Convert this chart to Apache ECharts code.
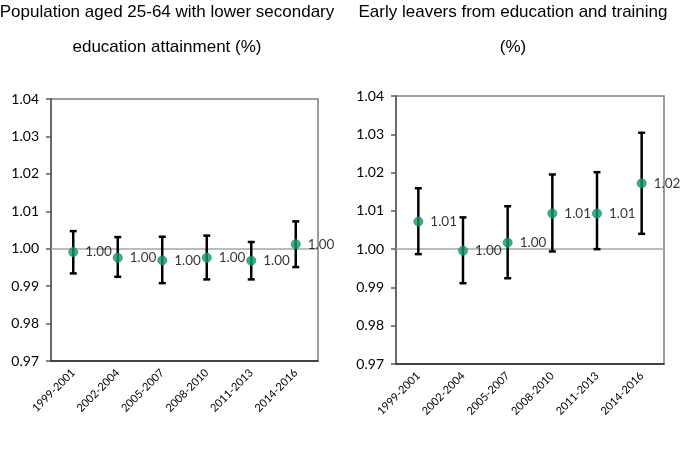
<!DOCTYPE html>
<html>
<head>
<meta charset="utf-8">
<script src="https://cdn.jsdelivr.net/npm/echarts@6/dist/echarts.min.js"></script>
<style>html,body{margin:0;padding:0;background:#fff}#c{width:686px;height:450px}</style>
</head>
<body>
<div id="c"></div>
<script>
var categories = ['1999-2001','2002-2004','2005-2007','2008-2010','2011-2013','2014-2016'];
var yTicks = [0.97, 0.98, 0.99, 1.00, 1.01, 1.02, 1.03, 1.04];

var leftTitle = 'Population aged 25-64 with lower secondary\neducation attainment (%)';
var leftValues = [0.9991, 0.9976, 0.9969, 0.9976, 0.9968, 1.0012];
var leftLow    = [0.9934, 0.9925, 0.9908, 0.9918, 0.9918, 0.9951];
var leftHigh   = [1.0047, 1.0031, 1.0032, 1.0035, 1.0018, 1.0073];

var rightTitle = 'Early leavers from education and training\n(%)';
var rightValues = [1.0072, 0.9996, 1.0017, 1.0093, 1.0093, 1.0172];
var rightLow    = [0.9987, 0.9911, 0.9924, 0.9994, 1.0000, 1.0040];
var rightHigh   = [1.0159, 1.0083, 1.0112, 1.0195, 1.0201, 1.0304];

var chart = echarts.init(document.getElementById('c'), null, {renderer: 'canvas'});
var FONT = 'Lato';

function errData(lo, hi) {
  return lo.map(function (l, i) { return [i, l, hi[i]]; });
}
function renderErr(params, api) {
  var x = api.value(0);
  var p1 = api.coord([x, api.value(1)]);
  var p2 = api.coord([x, api.value(2)]);
  var hw = 3.5;
  var st = {stroke: '#000', lineWidth: 2.5};
  return {
    type: 'group',
    children: [
      {type: 'line', shape: {x1: p1[0], y1: p1[1], x2: p2[0], y2: p2[1]}, style: st},
      {type: 'line', shape: {x1: p1[0] - hw, y1: p1[1], x2: p1[0] + hw, y2: p1[1]}, style: st},
      {type: 'line', shape: {x1: p2[0] - hw, y1: p2[1], x2: p2[0] + hw, y2: p2[1]}, style: st}
    ]
  };
}
function xAxis(idx) {
  return {
    type: 'category', gridIndex: idx, data: categories,
    axisLine: {lineStyle: {color: '#262626', width: 1.5}},
    axisTick: {show: false},
    axisLabel: {rotate: 45, fontFamily: FONT, fontSize: 11, color: '#000', margin: 10, interval: 0},
    splitLine: {show: false}
  };
}
function yAxis(idx) {
  return {
    type: 'value', gridIndex: idx, min: 0.97, max: 1.04, interval: 0.01,
    axisLine: {show: true, lineStyle: {color: '#595959', width: 1.5}},
    axisTick: {show: true, length: 5, lineStyle: {color: '#595959', width: 1.5}},
    axisLabel: {fontFamily: FONT, fontSize: 14, color: '#000', margin: 12,
      formatter: function (v) { return v.toFixed(2); }},
    splitLine: {show: false}
  };
}
function scatter(idx, vals) {
  return {
    type: 'scatter', xAxisIndex: idx, yAxisIndex: idx, z: 5,
    data: vals, symbol: 'circle', symbolSize: 9,
    itemStyle: {color: '#00a651', borderColor: '#4472c4', borderWidth: 1},
    label: {show: true, position: 'right', distance: 7, fontFamily: FONT, fontSize: 13.5, color: '#000',
      formatter: function (p) { return p.value.toFixed(2); }},
    markLine: {
      silent: true, symbol: 'none', z: 1,
      lineStyle: {color: '#a6a6a6', width: 1.5, type: 'solid'},
      label: {show: false},
      data: [{yAxis: 1.0}]
    },
    emphasis: {disabled: true}
  };
}
function errSeries(idx, lo, hi) {
  return {
    type: 'custom', xAxisIndex: idx, yAxisIndex: idx, z: 3,
    data: errData(lo, hi),
    encode: {x: 0, y: [1, 2]},
    renderItem: renderErr
  };
}

chart.setOption({
  animation: false,
  backgroundColor: '#fff',
  title: [
    {text: leftTitle, left: 167, top: -5, textAlign: 'center', padding: 0,
      textStyle: {fontFamily: 'Liberation Sans', fontSize: 17, fontWeight: 'normal', color: '#000', lineHeight: 35}},
    {text: rightTitle, left: 513, top: -5, textAlign: 'center', padding: 0,
      textStyle: {fontFamily: 'Liberation Sans', fontSize: 17, fontWeight: 'normal', color: '#000', lineHeight: 35}}
  ],
  grid: [
    {left: 51, right: 368, top: 99, bottom: 89, show: true, borderColor: '#7f7f7f', borderWidth: 1.5, containLabel: false},
    {left: 396, right: 22, top: 96, bottom: 86, show: true, borderColor: '#7f7f7f', borderWidth: 1.5, containLabel: false}
  ],
  xAxis: [xAxis(0), xAxis(1)],
  yAxis: [yAxis(0), yAxis(1)],
  series: [
    errSeries(0, leftLow, leftHigh),
    scatter(0, leftValues),
    errSeries(1, rightLow, rightHigh),
    scatter(1, rightValues)
  ]
});
</script>
</body>
</html>
